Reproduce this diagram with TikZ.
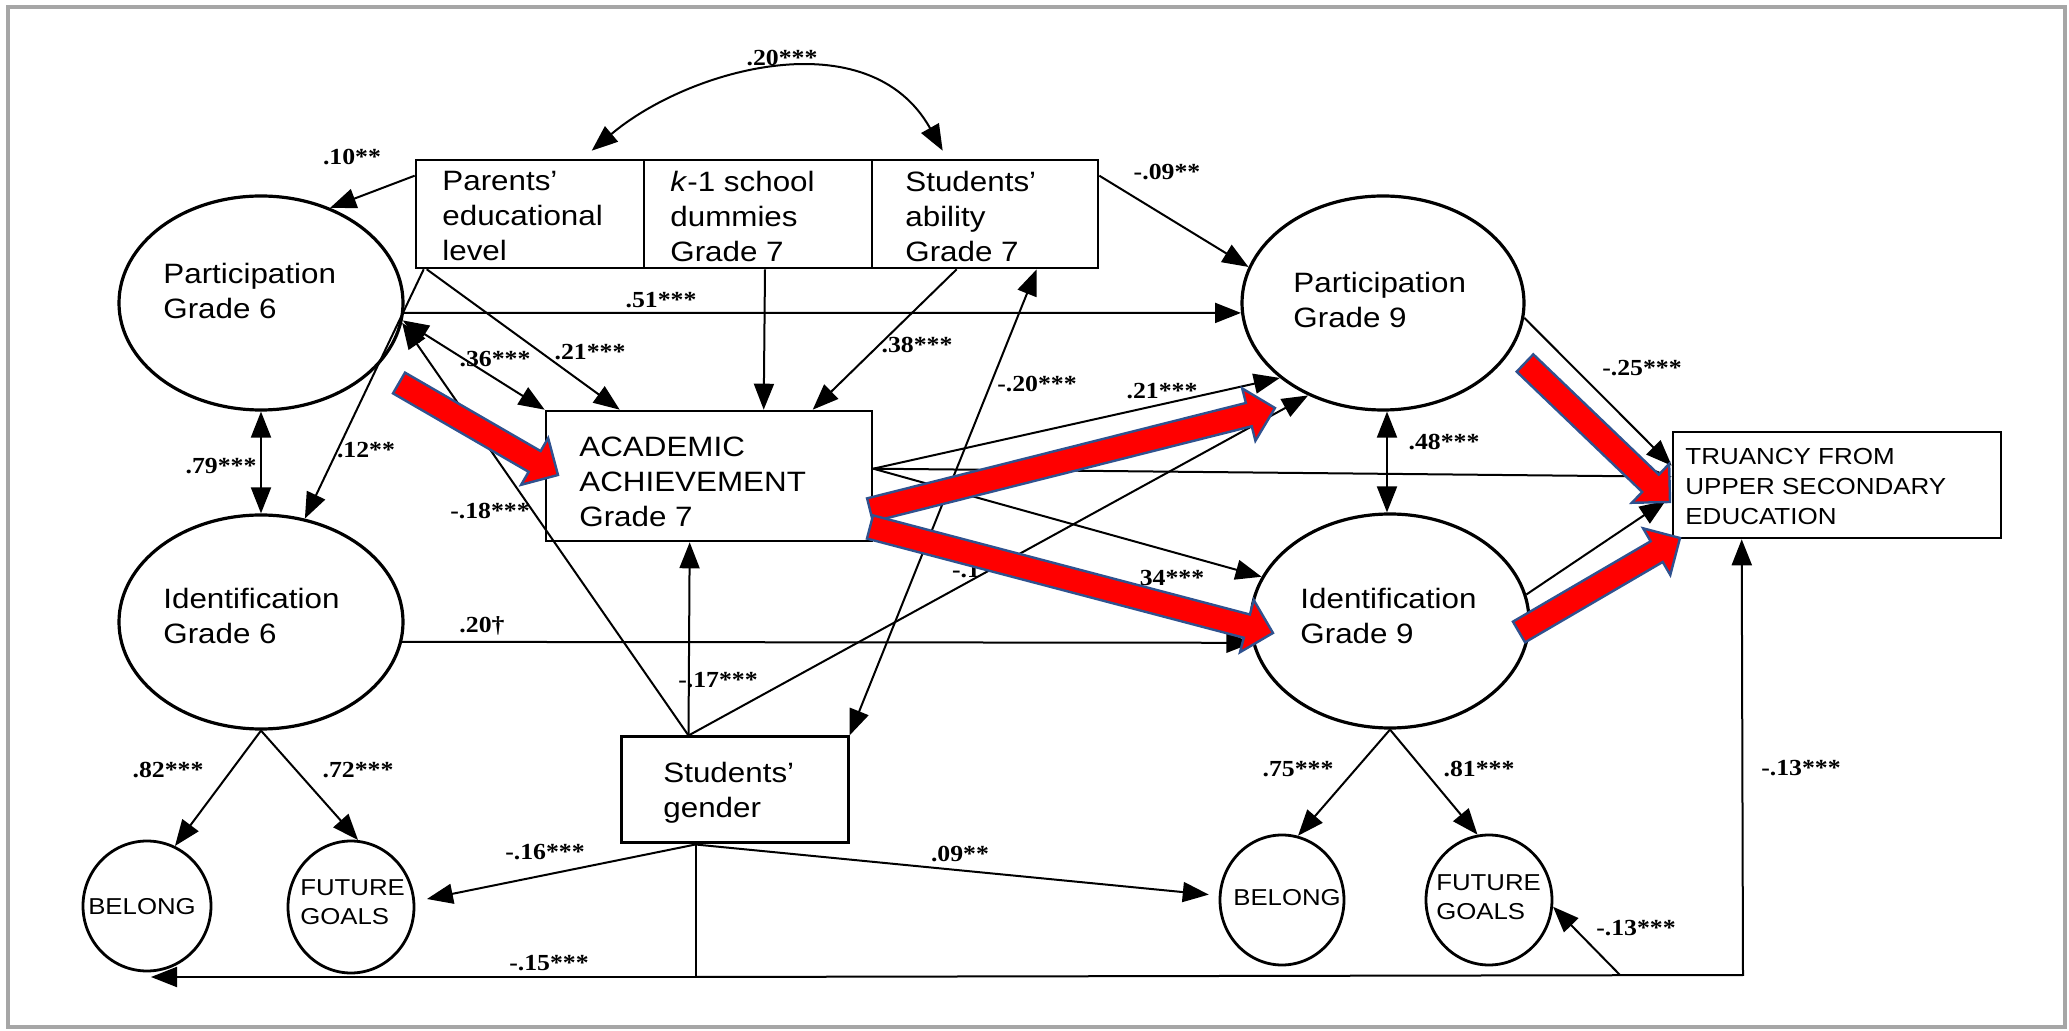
\documentclass[tikz,border=0pt]{standalone}
\usepackage{fontspec}
\setmainfont{Liberation Sans}[FakeStretch=1.12]
\newfontfamily\labfont{Liberation Serif}[FakeStretch=1.12]
\usetikzlibrary{arrows.meta,shapes.geometric,calc}
\definecolor{arrowblue}{RGB}{47,82,143}
\newcommand\redarrowshape[4]{%
  \pgfmathsetmacro\rgang{atan2(#4-#2,#3-#1)}%
  \pgfmathsetmacro\rglen{veclen(#3-#1,#4-#2)}%
  \pgfmathsetmacro\rgbase{\rglen-27}%
  \draw[redarrow,shift={(#1,#2)},rotate=-\rgang] (0,-12) -- (\rgbase,-12) -- (\rgbase,-27) -- (\rglen,0) -- (\rgbase,27) -- (\rgbase,12) -- (0,12) -- cycle;}
\begin{document}
\begin{tikzpicture}[x=0.5pt,y=-0.5pt,
  lat/.style={draw, ellipse, line width=1.6pt, inner sep=0pt},
  sm/.style={draw, ellipse, line width=1.4pt, inner sep=0pt},
  bx/.style={draw, rectangle, line width=1.3pt, inner sep=0pt},
  txt/.style={anchor=north west, inner sep=0pt, align=left, font=\fontsize{14}{17.5}\selectfont},
  smtxt/.style={inner sep=0pt, align=left, font=\fontsize{11.5}{14.5}\selectfont},
  wlab/.style={inner sep=0pt, font=\fontsize{11.5}{13}\selectfont\labfont\bfseries},
  conn/.style={line width=1pt, -{Triangle[length=13pt,width=10pt]}},
  bi/.style={line width=1pt, {Triangle[length=13pt,width=10pt]}-{Triangle[length=13pt,width=10pt]}},
  plain/.style={line width=1pt},
  redarrow/.style={fill=red, draw=arrowblue, line width=1.2pt, line join=miter}]
\useasboundingbox (0,0) rectangle (2069,1031);
\draw[gray!70, line width=2pt] (8,7) rectangle (2065,1027);

% latent ellipses
\node[lat, minimum width=142pt, minimum height=107pt] (p6) at (261,303) {};
\node[lat, minimum width=142pt, minimum height=107pt] (i6) at (261,622) {};
\node[lat, minimum width=141pt, minimum height=107pt] (p9) at (1383,303) {};
\node[lat, minimum width=139pt, minimum height=107pt] (i9) at (1390,621) {};
\node[sm, minimum width=64pt, minimum height=65pt] (bl) at (147,906) {};
\node[sm, minimum width=63pt, minimum height=66pt] (fl) at (351,907) {};
\node[sm, minimum width=62pt, minimum height=65pt] (br) at (1282,900) {};
\node[sm, minimum width=63pt, minimum height=65pt] (fr) at (1489,900) {};

% boxes
\node[bx, minimum width=114pt, minimum height=54pt] (par) at (530,214) {};
\node[bx, minimum width=114pt, minimum height=54pt] (k1) at (758,214) {};
\node[bx, minimum width=113pt, minimum height=54pt] (abil) at (985,214) {};
\node[bx, minimum width=163pt, minimum height=65pt] (acad) at (709,476) {};
\node[bx, minimum width=113.5pt, minimum height=53pt, line width=1.5pt] (gen) at (734.5,790) {};
\node[bx, minimum width=164pt, minimum height=53pt] (tru) at (1837,485) {};

% texts
\node[txt] (p6t) at (163,263) {Participation\\Grade 6};
\node[txt] (i6t) at (163,588) {Identification\\Grade 6};
\node[txt] (p9t) at (1293,272) {Participation\\Grade 9};
\node[txt] (i9t) at (1300,588) {Identification\\Grade 9};
\node[txt] (acadt) at (579,437) {ACADEMIC\\ACHIEVEMENT\\Grade 7};
\node[txt] (part) at (442,171) {Parents’\\educational\\level};
\node[txt] (k1t) at (670,171) {\textit{k}-1 school\\dummies\\Grade 7};
\node[txt] (ablt) at (905,171) {Students’\\ability\\Grade 7};
\node[txt] (gent) at (663,762) {Students’\\gender};
\node[txt, font=\fontsize{11.6}{15}\selectfont] (trut) at (1685,448) {TRUANCY FROM\\UPPER SECONDARY\\EDUCATION};
\node[smtxt] (blt) at (142,907) {BELONG};
\node[smtxt, anchor=north west] (flt) at (300,879) {FUTURE\\GOALS};
\node[smtxt] (brt) at (1287,898) {BELONG};
\node[smtxt, anchor=north west] (frt) at (1436,874) {FUTURE\\GOALS};

% helper coordinates
\coordinate (gtp) at ($(gen.north west)+(69,0)$);
\coordinate (gb) at ($(gen.south west)+(76,0)$);
\coordinate (ar) at ($(acad.north east)+(0,59)$);
\coordinate (bL) at (151,977);
\coordinate (bR) at (1743,975);
\coordinate (bF) at (1620,975);

% connectors
\draw[bi] ($(par.north west)+(177,-8)$) .. controls ($(par.north west)+(274,-90)$) and ($(abil.north west)+(-2,-140)$) .. ($(abil.north west)+(72,-8)$);
\draw[conn] ($(par.north west)+(0,17)$) -- (p6.54);
\draw[conn] ($(abil.north east)+(0,17)$) -- (p9.165);
\draw[conn] (p6.-4) -- (p9.184);
\draw[bi] (p6.-7) -- (acad.north west);
\draw[conn] ($(par.south west)+(12,0)$) -- ($(acad.north west)+(75,0)$);
\draw[conn] ($(par.south west)+(9,0)$) -- (i6.67);
\draw[conn] ($(k1.south)+(7,0)$) -- ($(acad.north west)+(219,0)$);
\draw[conn] ($(abil.south west)+(86,0)$) -- ($(acad.north west)+(268,0)$);
\draw[bi] ($(abil.south west)+(166,0)$) -- (gen.north east);
\draw[conn] (gtp) -- (p6.-8);
\draw[conn] (gtp) -- ($(acad.south west)+(145,0)$);
\draw[conn] (gtp) -- (p9.231);
\draw[conn] (ar) -- (p9.216);
\draw[conn] (ar) -- ($(tru.north west)+(0,46)$);
\draw[conn] (ar) -- (i9.161);
\draw[conn] (i6.-8.4) -- (i9.189);
\draw[conn] (p9.-6) -- ($(tru.north west)+(0,35)$);
\draw[conn] (i9.11.7) -- ($(tru.north west)+(-6,70)$);
\draw[bi] ($(p9.south)+(4,0)$) -- ($(i9.north)+(-3,0)$);
\draw[bi] (p6.south) -- (i6.north);
\draw[conn] (i6.south) -- (bl.65);
\draw[conn] (i6.south) -- (fl.84);
\draw[conn] (i9.south) -- (br.76);
\draw[conn] (i9.south) -- (fr.100);
\draw[conn, shorten >=6pt] (gb) -- (fl.5);
\draw[conn, shorten >=5pt] (gb) -- (br.176);
\draw[plain] (gb) -- (gb |- bL);
\draw[conn] (gb |- bL) -- (bL);
\draw[conn] (gb |- bL) -- (bR) -- ($(tru.south west)+(70,0)$);
\draw[conn] (bF) -- (fr.-6);

% labels
\node[wlab] (l1) at (782,58) {.20***};
\node[wlab] (l2) at (352,157) {.10**};
\node[wlab] (l3) at (1167,172) {-.09**};
\node[wlab] (l4) at (661,300) {.51***};
\node[wlab] (l5) at (495,359) {.36***};
\node[wlab] (l6) at (590,352) {.21***};
\node[wlab] (l7) at (917,345) {.38***};
\node[wlab] (l8) at (1037,384) {-.20***};
\node[wlab] (l9) at (1162,391) {.21***};
\node[wlab] (l10) at (1444,442) {.48***};
\node[wlab] (l11) at (1642,368) {-.25***};
\node[wlab] (l12) at (221,466) {.79***};
\node[wlab] (l13) at (366,450) {.12**};
\node[wlab] (l14) at (490,511) {-.18***};
\node[wlab] (l15) at (482,626) {.20†};
\node[wlab] (l16) at (718,680) {-.17***};
\node[wlab] (l17) at (966,570) {-.1};
\node[wlab] (l18) at (1172,578) {34***};
\node[wlab] (l19) at (168,770) {.82***};
\node[wlab] (l20) at (358,770) {.72***};
\node[wlab] (l21) at (545,852) {-.16***};
\node[wlab] (l22) at (960,854) {.09**};
\node[wlab] (l23) at (549,963) {-.15***};
\node[wlab] (l24) at (1298,769) {.75***};
\node[wlab] (l25) at (1479,769) {.81***};
\node[wlab] (l26) at (1801,768) {-.13***};
\node[wlab] (l27) at (1636,928) {-.13***};

% red arrows
\redarrowshape{399}{383}{558}{475}
\redarrowshape{870}{510}{1275}{408}
\redarrowshape{870}{527}{1273}{633}
\redarrowshape{1525}{363}{1670}{502}
\redarrowshape{1519}{632}{1680}{538}
\end{tikzpicture}
\end{document}
